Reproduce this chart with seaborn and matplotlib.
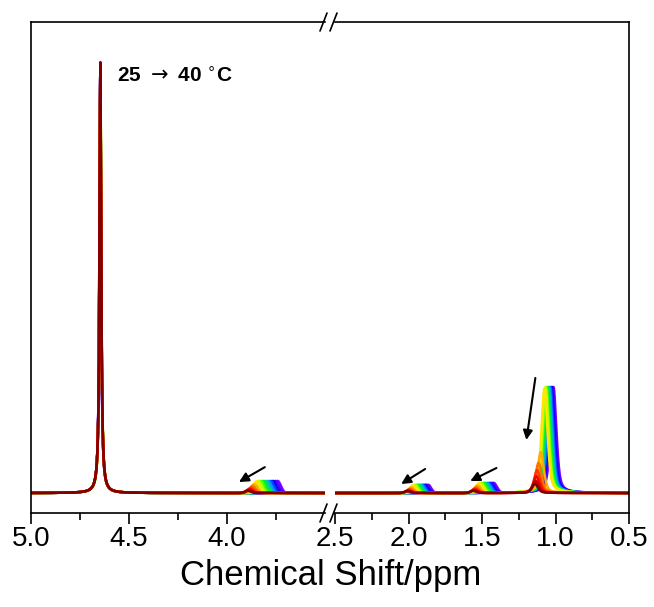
import numpy as np
import pandas as pd
import matplotlib
matplotlib.use('Agg')
import matplotlib.pyplot as plt
import seaborn as sns
from matplotlib.lines import Line2D

# Spectra recorded from 25 to 40 C, one per degree
temps = [25, 26, 27, 28, 29, 30, 31, 32, 33, 34, 35, 36, 37, 38, 39, 40]

# HDO peak (normalised intensity = 100)
hdo_ppm = [4.6465, 4.6465, 4.6465, 4.646, 4.646, 4.646, 4.6455, 4.6455, 4.6455, 4.6455,
           4.646, 4.646, 4.646, 4.646, 4.646, 4.646]
hdo_int = [97, 97, 97, 97, 97, 97, 97, 97, 97, 97,
           98, 98, 99, 99, 99, 100]

# broad signal around 3.8 ppm
p38_ppm = [3.741, 3.753, 3.765, 3.777, 3.789, 3.801, 3.813, 3.826, 3.838, 3.850,
           3.862, 3.870, 3.878, 3.884, 3.889, 3.893]
p38_int = [2.8, 2.8, 2.8, 2.8, 2.8, 2.8, 2.8, 2.8, 2.8, 2.7,
           2.0, 1.6, 1.2, 0.9, 0.7, 0.5]

# signal around 1.9 ppm
p19_ppm = [1.866, 1.878, 1.889, 1.901, 1.912, 1.924, 1.935, 1.947, 1.958, 1.970,
           1.980, 1.988, 1.995, 2.000, 2.004, 2.008]
p19_int = [1.9, 1.9, 1.9, 1.9, 1.9, 1.9, 1.9, 1.9, 1.9, 1.8,
           1.3, 1.0, 0.8, 0.6, 0.5, 0.4]

# signal around 1.5 ppm
p15_ppm = [1.420, 1.431, 1.442, 1.453, 1.464, 1.476, 1.487, 1.498, 1.509, 1.520,
           1.530, 1.538, 1.545, 1.550, 1.554, 1.558]
p15_int = [2.3, 2.3, 2.3, 2.3, 2.3, 2.3, 2.3, 2.3, 2.3, 2.2,
           1.7, 1.3, 1.0, 0.8, 0.6, 0.5]

# methyl signal around 1.05 ppm
me_ppm = [1.014, 1.021, 1.028, 1.034, 1.041, 1.048, 1.055, 1.062, 1.068, 1.075,
          1.100, 1.115, 1.125, 1.130, 1.135, 1.140]
me_int = [24.6, 24.6, 24.6, 24.6, 24.6, 24.6, 24.6, 24.6, 24.6, 24.3,
          9.5, 7.0, 5.3, 3.9, 2.8, 2.1]

palette = sns.blend_palette(["#8000ff", "#0000ff", "#00b0ff", "#00ff00",
                             "#ffff00", "#ff8000", "#ff0000", "#800000"],
                            n_colors=len(temps))


def gauss(x, c, s):
    return np.exp(-0.5 * ((x - c) / s) ** 2)


def lorentz(x, c, g):
    return 1.0 / (1.0 + ((x - c) / g) ** 2)


def spectrum(x, i):
    y = hdo_int[i] * lorentz(x, hdo_ppm[i], 0.005)
    y += p38_int[i] * gauss(x, p38_ppm[i], 0.016)
    y += p19_int[i] * gauss(x, p19_ppm[i], 0.02)
    y += p15_int[i] * gauss(x, p15_ppm[i], 0.022)
    y += me_int[i] * (0.5 * gauss(x, me_ppm[i], 0.02) + 0.5 * lorentz(x, me_ppm[i], 0.025))
    return y


def build_frame(lo, hi):
    x = np.arange(lo, hi, 0.0005)
    rows = []
    for i, t in enumerate(temps):
        rows.append(pd.DataFrame({'ppm': x, 'intensity': spectrum(x, i), 'temp': t}))
    return pd.concat(rows, ignore_index=True)


sns.set_style('ticks')
plt.rcParams['font.family'] = ['Liberation Sans', 'DejaVu Sans']
plt.rcParams['text.color'] = 'black'
plt.rcParams['xtick.color'] = 'black'
plt.rcParams['xtick.labelcolor'] = 'black'

W, H = 654, 607
fig = plt.figure(figsize=(W / 100, H / 100), dpi=100)
ax1 = fig.add_axes([31 / W, 1 - 513 / H, 294 / W, 491 / H])
ax2 = fig.add_axes([335 / W, 1 - 513 / H, 294 / W, 491 / H])

left_df = build_frame(3.5, 5.0005)
right_df = build_frame(0.5, 2.5005)

for ax, df in [(ax1, left_df), (ax2, right_df)]:
    sns.lineplot(data=df, x='ppm', y='intensity', hue='temp', palette=palette,
                 legend=False, lw=1.8, estimator=None, sort=False, ax=ax)
    ax.set_ylim(-4.64, 109.3)
    ax.set_yticks([])
    ax.set_xlabel('')
    ax.set_ylabel('')
    for s in ax.spines.values():
        s.set_linewidth(1.2)
        s.set_color('black')
    ax.tick_params(axis='x', which='major', direction='out', length=8, width=1.2,
                   labelsize=20, pad=1, colors='black')
    ax.tick_params(axis='x', which='minor', direction='out', length=5, width=1.2,
                   colors='black')

ax1.set_xlim(5.0, 3.5)
ax1.set_xticks([5.0, 4.5, 4.0])
ax1.set_xticks([4.75, 4.25, 3.75], minor=True)
ax1.set_xticklabels(['5.0', '4.5', '4.0'])
ax1.spines['right'].set_visible(False)

ax2.set_xlim(2.5, 0.5)
ax2.set_xticks([2.5, 2.0, 1.5, 1.0, 0.5])
ax2.set_xticks([2.25, 1.75, 1.25, 0.75], minor=True)
ax2.set_xticklabels(['2.5', '2.0', '1.5', '1.0', '0.5'])
ax2.spines['left'].set_visible(False)

# axis break marks
for xp in (323.5, 333.5):
    for yp in (22, 513):
        fig.add_artist(Line2D([(xp - 3.5) / W, (xp + 3.5) / W],
                              [1 - (yp + 9) / H, 1 - (yp - 9) / H],
                              transform=fig.transFigure, color='black', lw=1.2))

# arrows showing the temperature trend
arrow_kw = dict(arrowstyle='-|>', color='black', lw=1.5, mutation_scale=14,
                shrinkA=0, shrinkB=0)
ax1.annotate('', xy=(3.939, 2.55), xytext=(3.807, 6.0), arrowprops=arrow_kw)
ax2.annotate('', xy=(2.050, 2.09), xytext=(1.887, 5.57), arrowprops=arrow_kw)
ax2.annotate('', xy=(1.580, 2.78), xytext=(1.402, 5.8), arrowprops=arrow_kw)
ax2.annotate('', xy=(1.198, 12.3), xytext=(1.137, 26.7), arrowprops=arrow_kw)

fig.text(117 / W, 1 - 82 / H, r'25 $\rightarrow$ 40 $^{\circ}$C', fontsize=15,
         fontweight='bold', va='baseline', ha='left', color='black')
fig.text(331 / W, 1 - 585 / H, 'Chemical Shift/ppm', fontsize=25,
         va='baseline', ha='center', color='black')

fig.savefig('out.png', dpi=100)
